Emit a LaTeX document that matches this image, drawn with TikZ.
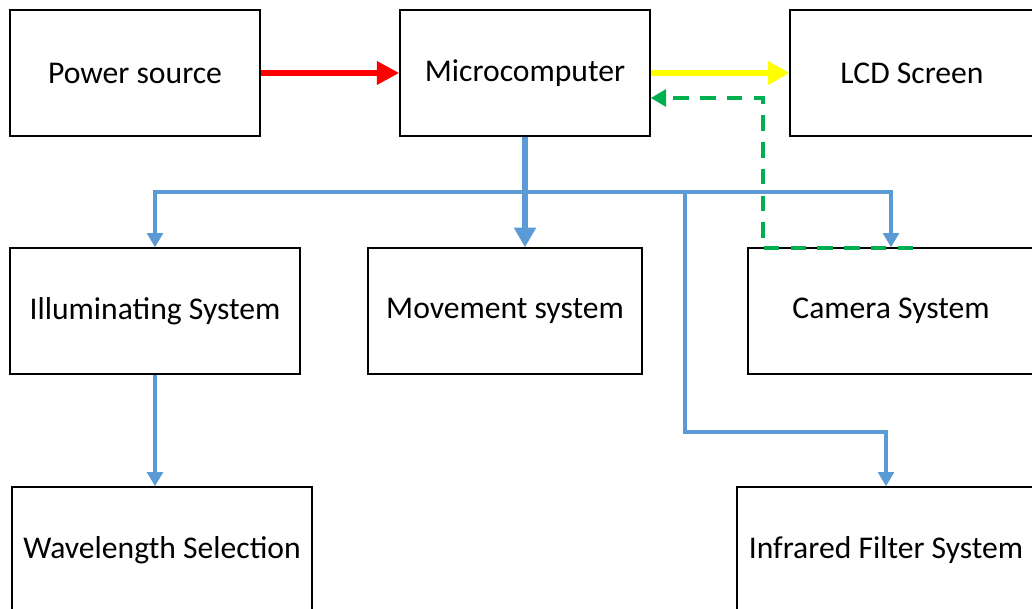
\documentclass[tikz,border=0pt]{standalone}
\usepackage{fontspec}
\setmainfont{Carlito}
\usetikzlibrary{arrows.meta}

\definecolor{linkblue}{HTML}{5B9BD5}
\definecolor{linkgreen}{HTML}{00B050}
\definecolor{linkyellow}{HTML}{FFFF00}

\tikzset{
    block/.style={draw, line width=1pt, rectangle, minimum height=3.15cm, font=\fontsize{22.5}{27}\selectfont},
    busline/.style={linkblue, line width=2.8pt},
}

\begin{document}
\begin{tikzpicture}[x=0.025cm, y=-0.025cm]
    \clip (0,0) rectangle (1032,609);
    \fill[white] (0,0) rectangle (1032,609);

    \node[block, minimum width=6.25cm] (power) at (135,73) {Power source};
    \node[block, minimum width=6.25cm] (micro) at (525,73) {Microcomputer};
    \node[block, minimum width=6.1cm] (lcd) at (912,73) {LCD Screen};
    \node[block, minimum width=7.25cm] (illum) at (155,311) {Illuminating System};
    \node[block, minimum width=6.85cm] (move) at (505,311) {Movement system};
    \node[block, minimum width=7.15cm] (camera) at (891,311) {Camera System};
    \node[block, minimum width=7.5cm] (wave) at (162,550) {Wavelength Selection};
    \node[block, minimum width=7.45cm] (infra) at (886,550) {Infrared Filter System};

    \coordinate (bus) at (525,192);
    \coordinate (camtop) at (913,248);

    % power and display
    \draw[red, line width=4.8pt, -{Triangle[length=16pt, width=16pt]}] (power) -- (micro);
    \draw[linkyellow, line width=4.8pt, -{Triangle[length=15pt, width=16pt]}] (micro) -- (lcd);
    \draw[linkgreen, line width=3.5pt, dash pattern=on 11pt off 8pt, -{Triangle[length=11pt, width=12pt]}]
        (camtop) -| (763,98) -- (micro.east |- 0,98);

    % control bus
    \draw[linkblue, line width=4.8pt, -{Triangle[length=14pt, width=15pt]}] (micro.south) -- (micro.south |- move.north);
    \draw[busline, -{Triangle[length=10pt, width=11pt]}] (bus) -| (illum.north);
    \draw[busline, -{Triangle[length=10pt, width=11pt]}] (bus) -| (camera.north);
    \draw[busline, -{Triangle[length=10pt, width=11pt]}] (685,192) -- (685,432) -| (infra.north);
    \draw[busline, -{Triangle[length=10pt, width=11pt]}] (illum.south) -- (illum.south |- wave.north);
\end{tikzpicture}
\end{document}
